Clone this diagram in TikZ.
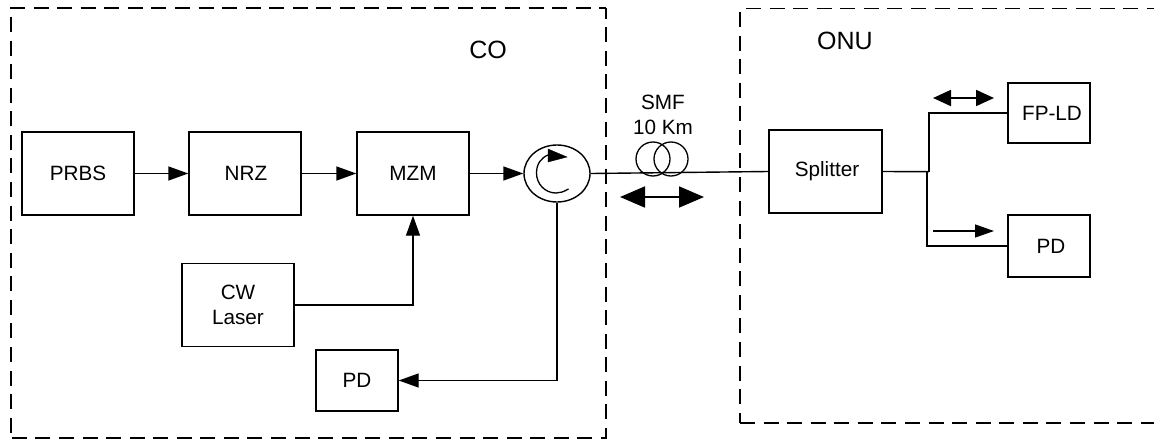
\documentclass[tikz,border=0pt]{standalone}
\usepackage{fontspec}
\setmainfont{Liberation Sans}
\usetikzlibrary{arrows.meta,shapes.geometric}
\tikzset{
  x=1pt,y=-1pt,
  blk/.style={draw,line width=1.4pt,rectangle,inner sep=0pt,font=\fontsize{20.7}{25}\selectfont,align=center,minimum width=#1},
  blk/.default=112pt,
  lab/.style={inner sep=0pt,font=\fontsize{20.7}{25}\selectfont,align=center},
  zonelab/.style={inner sep=0pt,font=\fontsize{25}{28}\selectfont},
  zone/.style={line width=1.4pt,dash pattern=on 15pt off 8.57pt},
  line/.style={line width=1.4pt},
  ring/.style={draw,line width=1.3pt,circle,minimum size=34pt,inner sep=0pt},
  sarrow/.style={line width=1.4pt,-{Triangle[length=20pt,width=14pt]}},
  barrow/.style={line width=1.8pt,{Triangle[length=25pt,width=21pt]}-{Triangle[length=25pt,width=21pt]}},
  marrow/.style={line width=1.8pt,{Triangle[length=18pt,width=16pt]}-{Triangle[length=18pt,width=16pt]}},
  tarrow/.style={line width=1.3pt,-{Triangle[length=19pt,width=13pt]}}
}
\begin{document}
\begin{tikzpicture}
\useasboundingbox (0,0) rectangle (1154,439);
% CO zone
\draw[zone] (10,8) -- (606,8);
\draw[zone,dash phase=4.3pt] (606,8) -- (606,438) -- (11,438);
\draw[zone] (11,17) -- (11,438);
% ONU zone
\draw[zone] (746,8.5) -- (1154,8.5);
\draw[zone] (740,12) -- (740,423);
\draw[zone] (740,423) -- (1154,423);
\node[zonelab] (colab) at (488,50) {CO};
\node[zonelab] (onulab) at (845,41) {ONU};
\node[blk,minimum height=83pt] (prbs) at (78,173.5) {PRBS};
\node[blk,minimum height=83pt] (nrz) at (245,173.5) {\hspace*{2pt}NRZ};
\node[blk,minimum height=83pt] (mzm) at (413,173.5) {MZM};
\node[blk,minimum height=83pt] (cw) at (238,305) {CW\\Laser};
\node[blk=82pt,minimum height=61pt] (pdc) at (357,380.5) {PD};
\node[blk=113pt,minimum height=83pt] (split) at (825.5,171.5) {\hspace*{3pt}Splitter};
\node[blk=82pt,minimum height=60pt] (fp) at (1049,113) {\hspace*{6pt}FP-LD};
\node[blk=82pt,minimum height=62pt] (pdo) at (1049,246) {\hspace*{4pt}PD};
\node[draw,line width=1.4pt,ellipse,minimum width=66pt,minimum height=57pt,inner sep=0pt] (circ) at (557,173.5) {};
\draw[line width=1.3pt] (568.5,189) .. controls (563,192) and (560,193) .. (556,193) .. controls (545,193) and (536.5,184) .. (536.5,173) .. controls (536.5,164) and (541,158) .. (548,155);
\draw[fill=black] (548,149) -- (567,157) -- (548,162) -- cycle;
\node[lab] (smf) at (663,114.5) {SMF\\10 Km};
\draw[sarrow] (prbs) -- (nrz);
\draw[sarrow] (nrz) -- (mzm);
\draw[sarrow] (mzm.east) -- (circ.west);
\draw[sarrow] (cw.east) -| (mzm.south);
\draw[sarrow] (circ.south) |- (pdc.east);
\draw[line] (circ.east) -- (split.west);
\node[ring] (c1) at (653,159) {};
\node[ring] (c2) at (671,159) {};
\coordinate (bl) at (620,197); \coordinate (br) at (704,197);
\draw[barrow] (bl) -- (br);
\coordinate (ju) at (929,171.7);
\coordinate (jd) at (927,171.7);
\draw[line] (split.east) -- (ju);
\draw[line] (ju) |- (fp.west);
\draw[line] (jd) |- (pdo.west);
\coordinate (t1) at (933,98); \coordinate (t2) at (994,98);
\draw[marrow] (t1) -- (t2);
\coordinate (u1) at (933,231); \coordinate (u2) at (994,231);
\draw[tarrow] (u1) -- (u2);
\end{tikzpicture}
\end{document}
